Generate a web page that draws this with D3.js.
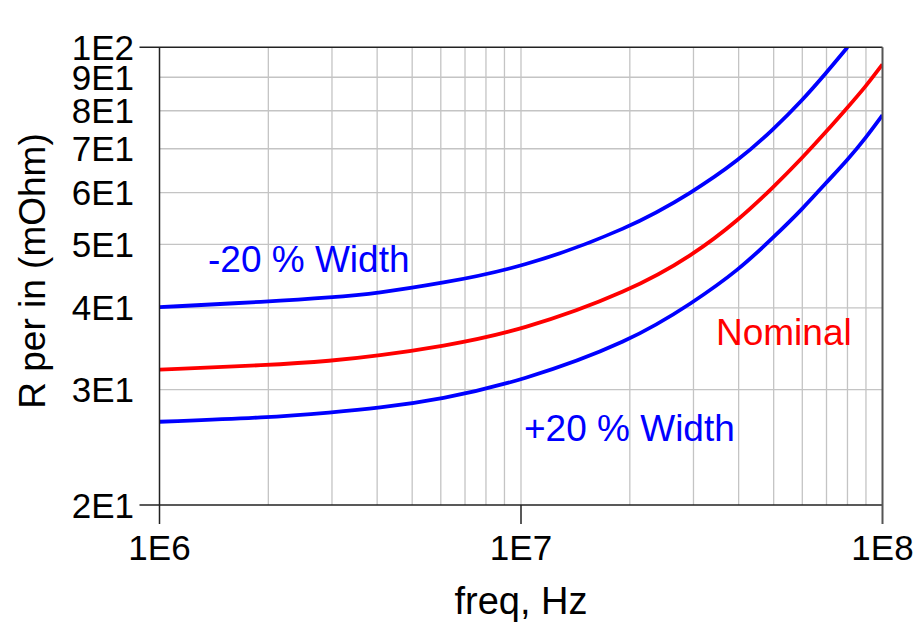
<!DOCTYPE html>
<html>
<head>
<meta charset="utf-8">
<script src="https://cdn.jsdelivr.net/npm/d3@7"></script>
<style>
  html, body { margin: 0; padding: 0; background: #fff; }
  svg { display: block; font-family: "Liberation Sans", Arial, sans-serif; }
</style>
</head>
<body>
<svg id="chart" width="917" height="630"></svg>
<script>
// ---- data ----
const freq = [1e6, 2e6, 3e6, 4e6, 6e6, 1e7, 2e7, 3e7, 4e7, 5e7, 6e7, 7e7, 8e7, 9e7, 1e8];
const minus20 = [40.1, 40.9, 41.5, 42.1, 43.6, 46.0, 52.9, 60.2, 67.2, 75.0, 83.0, 91.5, 100.0, null, null];
const nominal = [32.2, 32.7, 33.2, 33.8, 34.9, 36.9, 42.4, 48.2, 54.5, 61.2, 67.8, 74.4, 80.9, 87.2, 94.2];
const plus20  = [26.8, 27.2, 27.7, 28.1, 29.0, 30.9, 35.5, 40.8, 45.7, 51.3, 56.6, 62.2, 67.3, 72.8, 78.8];
const seriesNames = ["-20 % Width", "Nominal", "+20 % Width"];
const seriesColors = ["#0000ff", "#ff0000", "#0000ff"];
const xTicks = [1e6, 1e7, 1e8];
const xTickLabels = ["1E6", "1E7", "1E8"];
const yTicks = [20, 30, 40, 50, 60, 70, 80, 90, 100];
const yTickLabels = ["2E1", "3E1", "4E1", "5E1", "6E1", "7E1", "8E1", "9E1", "1E2"];
const xGrid = [2e6, 3e6, 4e6, 5e6, 6e6, 7e6, 8e6, 9e6, 1e7, 2e7, 3e7, 4e7, 5e7, 6e7, 7e7, 8e7, 9e7];
const xLabel = "freq, Hz";
const yLabel = "R per in (mOhm)";

(function () {
// ---- layout ----
const pL = 159.5, pT = 47.3, pR = 882.5, pB = 505;
const svg = d3.select("#chart");
const x = d3.scaleLog().domain([1e6, 1e8]).range([pL, pR]);
const y = d3.scaleLog().domain([20, 100]).range([pB, pT]);

// grid
const grid = svg.append("g");
grid.selectAll("line.vx").data(xGrid).enter().append("line")
  .attr("x1", d => x(d)).attr("x2", d => x(d))
  .attr("y1", pT).attr("y2", pB)
  .attr("stroke", "#c4c4c4").attr("stroke-width", 1.3);
grid.selectAll("line.hy").data(yTicks.slice(1, -1)).enter().append("line")
  .attr("x1", pL).attr("x2", pR)
  .attr("y1", d => y(d)).attr("y2", d => y(d))
  .attr("stroke", "#c4c4c4").attr("stroke-width", 1.3);

// clip
svg.append("clipPath").attr("id", "clip").append("rect")
  .attr("x", pL).attr("y", pT).attr("width", pR - pL).attr("height", pB - pT);

// curves
const line = d3.line()
  .defined(d => d[1] != null)
  .x(d => x(d[0])).y(d => y(d[1]))
  .curve(d3.curveBasis);
[minus20, nominal, plus20].forEach((vals, i) => {
  svg.append("path")
    .datum(freq.map((f, j) => [f, vals[j]]))
    .attr("d", line)
    .attr("fill", "none")
    .attr("stroke", seriesColors[i])
    .attr("stroke-width", 3.8)
    .attr("clip-path", "url(#clip)");
});

// frame
const frame = svg.append("g");
frame.append("line").attr("x1", pL - 20).attr("x2", pR).attr("y1", pT).attr("y2", pT)
  .attr("stroke", "#222").attr("stroke-width", 1.5);
frame.append("line").attr("x1", pL - 20).attr("x2", pR).attr("y1", pB).attr("y2", pB)
  .attr("stroke", "#222").attr("stroke-width", 1.5);
frame.append("line").attr("x1", pL).attr("x2", pL).attr("y1", pT).attr("y2", pB + 19)
  .attr("stroke", "#222").attr("stroke-width", 1.5);
frame.append("line").attr("x1", pR).attr("x2", pR).attr("y1", pT).attr("y2", pB + 19)
  .attr("stroke", "#555").attr("stroke-width", 2);
frame.selectAll("line.xt").data(xTicks.slice(1, -1)).enter().append("line")
  .attr("x1", d => x(d)).attr("x2", d => x(d)).attr("y1", pB).attr("y2", pB + 19)
  .attr("stroke", "#222").attr("stroke-width", 1.5);

// tick labels
svg.append("g").selectAll("text").data(xTicks).enter().append("text")
  .attr("x", d => x(d)).attr("y", 560)
  .attr("text-anchor", "middle").attr("font-size", 35).attr("fill", "#000")
  .text((d, i) => xTickLabels[i]);
svg.append("g").selectAll("text").data(yTicks).enter().append("text")
  .attr("x", 134).attr("y", d => y(d)).attr("dy", "0.36em")
  .attr("text-anchor", "end").attr("font-size", 35).attr("fill", "#000")
  .text((d, i) => yTickLabels[i]);

// axis titles
svg.append("text").attr("x", 521).attr("y", 614)
  .attr("text-anchor", "middle").attr("font-size", 38).attr("fill", "#000").text(xLabel);
svg.append("text").attr("transform", "translate(45,271) rotate(-90)")
  .attr("text-anchor", "middle").attr("font-size", 37).attr("fill", "#000").text(yLabel);

// annotations
const ann = [
  {t: seriesNames[0], x: 208, y: 272, c: seriesColors[0]},
  {t: seriesNames[1], x: 716, y: 345, c: seriesColors[1]},
  {t: seriesNames[2], x: 524, y: 441, c: seriesColors[2]}
];
svg.append("g").selectAll("text").data(ann).enter().append("text")
  .attr("x", d => d.x).attr("y", d => d.y)
  .attr("font-size", 37).attr("fill", d => d.c).text(d => d.t);
})();
</script>
</body>
</html>
